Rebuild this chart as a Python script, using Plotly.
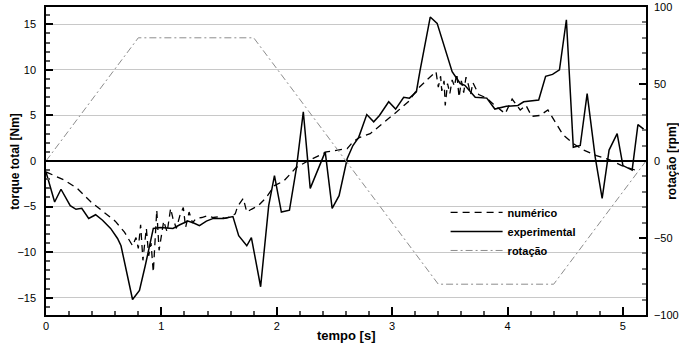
import plotly.graph_objects as go

# ---------------- data ----------------
t_exp = [0.00, 0.075, 0.13, 0.21, 0.26, 0.31, 0.37, 0.43, 0.49, 0.56, 0.62, 0.65, 0.75, 0.81,
         0.86, 0.93, 0.99, 1.10, 1.16, 1.23, 1.28, 1.33, 1.39, 1.45, 1.54, 1.62, 1.67, 1.74,
         1.78, 1.86, 1.93, 1.98, 2.04, 2.11, 2.17, 2.23, 2.29, 2.36, 2.42, 2.48, 2.54, 2.61,
         2.66, 2.71, 2.78, 2.84, 2.89, 2.97, 3.03, 3.10, 3.15, 3.21, 3.24, 3.33, 3.39, 3.52,
         3.59, 3.63, 3.72, 3.82, 3.89, 3.99, 4.09, 4.14, 4.27, 4.33, 4.39, 4.45, 4.51, 4.57,
         4.63, 4.69, 4.76, 4.82, 4.88, 4.95, 5.00, 5.08, 5.13, 5.18]
torque_exp = [-1.2, -4.5, -3.1, -4.9, -5.3, -5.2, -6.3, -5.9, -6.5, -7.4, -8.5, -9.3, -15.2, -14.2,
              -11.5, -7.4, -7.3, -7.4, -7.0, -6.6, -6.8, -7.1, -6.6, -6.3, -6.3, -6.1, -8.2, -9.3,
              -8.4, -13.8, -4.9, -1.6, -5.6, -5.4, -0.8, 5.4, -3.0, -0.8, 1.0, -5.2, -3.8, 0.25,
              1.7, 2.6, 5.1, 4.3, 5.0, 6.5, 5.7, 7.0, 6.9, 7.6, 9.8, 15.8, 15.1, 9.8,
              8.5, 8.3, 7.0, 6.9, 5.7, 6.0, 6.1, 6.5, 6.7, 9.3, 9.5, 10.0, 15.5, 1.5,
              1.7, 7.4, 0.4, -4.1, 1.2, 3.0, -0.5, -1.0, 4.0, 3.5]

t_num = [0.00, 0.16, 0.27, 0.39, 0.50, 0.60, 0.68, 0.75, 0.78, 0.80, 0.82, 0.84, 0.86, 0.87,
         0.89, 0.91, 0.93, 0.95, 0.96, 0.98, 1.00, 1.02, 1.05, 1.08, 1.10, 1.13, 1.16, 1.19,
         1.21, 1.24, 1.27, 1.30, 1.35, 1.40, 1.45, 1.50, 1.55, 1.60, 1.64, 1.66, 1.71, 1.74,
         1.78, 1.84, 1.91, 1.98, 2.06, 2.17, 2.27, 2.37, 2.43, 2.53, 2.61, 2.66, 2.72, 2.81,
         2.92, 3.04, 3.14, 3.22, 3.31, 3.38, 3.40, 3.42, 3.43, 3.45, 3.46, 3.48, 3.50, 3.52,
         3.54, 3.56, 3.58, 3.60, 3.62, 3.64, 3.66, 3.68, 3.70, 3.75, 3.82, 3.89, 3.98, 4.04,
         4.11, 4.16, 4.21, 4.28, 4.35, 4.41, 4.48, 4.57, 4.66, 4.77, 4.89, 4.99, 5.10, 5.13]
torque_num = [-1.2, -2.1, -3.0, -4.5, -5.6, -6.6, -7.8, -9.3, -8.4, -9.6, -7.0, -10.9, -8.5, -7.4,
              -10.4, -9.0, -12.2, -7.0, -5.4, -9.8, -8.2, -6.6, -7.8, -5.2, -6.3, -7.4, -6.0, -5.1,
              -7.3, -5.6, -6.8, -6.3, -6.2, -6.0, -6.2, -6.1, -6.3, -6.1, -5.8, -5.0, -4.1, -5.6,
              -5.3, -4.9, -4.0, -2.7, -2.2, -0.7, 0.0, 0.6, 1.0, 1.2, 1.35, 2.1, 2.6, 3.0,
              4.1, 5.4, 6.5, 7.9, 9.0, 9.8, 8.1, 9.3, 7.7, 8.8, 6.1, 8.5, 7.4, 8.9,
              8.2, 9.6, 7.0, 8.8, 7.5, 9.2, 8.4, 7.3, 8.6, 7.3, 6.9, 6.1, 5.2, 6.8,
              5.6, 6.1, 4.9, 5.0, 5.6, 4.3, 2.9, 1.9, 1.2, 0.6, 0.1, -0.5, -1.0, -1.1]

t_rot = [0.0, 0.8, 1.8, 3.4, 4.4, 5.2]
rpm_rot = [0, 80, 80, -80, -80, 0]

series_names = ["numérico", "experimental", "rotação"]
x_title = "tempo [s]"
y_title = "torque total [Nm]"
y2_title = "rotação [rpm]"

FONT = "Liberation Sans, Arial, sans-serif"

fig = go.Figure()
fig.add_trace(go.Scatter(x=t_num, y=torque_num, mode="lines", name=series_names[0],
                         line=dict(color="black", width=1.3, dash="7px,5px")))
fig.add_trace(go.Scatter(x=t_exp, y=torque_exp, mode="lines", name=series_names[1],
                         line=dict(color="black", width=1.5)))
fig.add_trace(go.Scatter(x=t_rot, y=rpm_rot, mode="lines", name=series_names[2], yaxis="y2",
                         line=dict(color="#8c8c8c", width=1, dash="7px,3px,2px,3px")))

fig.update_layout(
    width=679, height=350,
    margin=dict(l=46, r=33, t=7, b=35, autoexpand=False),
    paper_bgcolor="white", plot_bgcolor="white",
    font=dict(family=FONT, size=11, color="black"),
    showlegend=True,
    legend=dict(x=0.666, y=0.38, xanchor="left", yanchor="top",
                bgcolor="rgba(0,0,0,0)", itemwidth=52,
                font=dict(family=FONT, size=11, color="black", weight="bold"),
                tracegroupgap=0),
    xaxis=dict(range=[0, 5.2], dtick=1, tick0=0, ticks="inside", ticklen=8, tickwidth=1.5,
               tickcolor="black", showline=True, linecolor="black", linewidth=1.5, mirror=True,
               showgrid=False, zeroline=False, ticklabelstandoff=0, automargin=False,
               minor=dict(dtick=0.2, ticks="inside", ticklen=4, tickcolor="#555555", showgrid=False)),
    yaxis=dict(range=[-16.9, 16.9], dtick=5, tick0=0, ticks="inside", ticklen=7, tickwidth=1.5,
               tickcolor="black", showline=True, linecolor="black", linewidth=1.5,
               showgrid=True, gridcolor="#c8c8c8", gridwidth=1,
               zeroline=True, zerolinecolor="black", zerolinewidth=1.5,
               ticklabelstandoff=6, automargin=False,
               minor=dict(dtick=1, ticks="inside", ticklen=4, tickcolor="#555555", showgrid=False)),
    yaxis2=dict(range=[-100, 100], dtick=50, tick0=0, overlaying="y", side="right",
                ticks="inside", ticklen=7, tickwidth=1.5, tickcolor="black",
                showline=True, linecolor="black", linewidth=1.5,
                showgrid=False, zeroline=False, ticklabelstandoff=4, automargin=False,
                minor=dict(dtick=10, ticks="inside", ticklen=4, tickcolor="#777777", showgrid=False)),
    annotations=[
        dict(text=x_title, xref="paper", yref="paper", x=0.5, y=-0.035, xanchor="center",
             yanchor="top", showarrow=False, font=dict(family=FONT, size=13, weight="bold")),
        dict(text=y_title, xref="paper", yref="paper", x=-0.052, y=0.5, xanchor="center",
             yanchor="middle", textangle=-90, showarrow=False,
             font=dict(family=FONT, size=12, weight="bold")),
        dict(text=y2_title, xref="paper", yref="paper", x=1.043, y=0.5, xanchor="center",
             yanchor="middle", textangle=-90, showarrow=False,
             font=dict(family=FONT, size=12, weight="bold")),
    ],
)

fig.write_html("out.html", config={"displayModeBar": False},
               post_script="document.body.style.margin='0';")
